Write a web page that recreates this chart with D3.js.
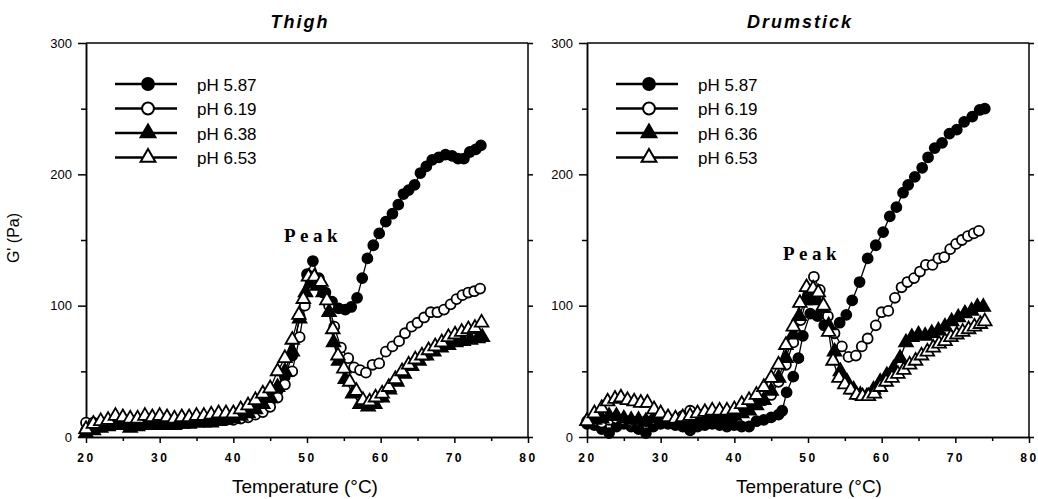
<!DOCTYPE html>
<html>
<head>
<meta charset="utf-8">
<script src="https://d3js.org/d3.v7.min.js"></script>
<style>
body { margin: 0; background: #fff; }
svg { font-family: "Liberation Sans", Arial, sans-serif; }
.axis path, .axis line { stroke: #000; stroke-width: 1.5; }
.axis text { font-size: 13px; fill: #000; }
.xaxis text { letter-spacing: 2.5px; font-size: 12px; font-weight: bold; }
</style>
</head>
<body>
<svg width="1038" height="499"></svg>
<script>
// Thigh: [temperature °C, G' Pa]
const thigh587 = [[20,5],[21,7],[22,8],[23,9],[24,10],[25,10],[26,9],[27,10],[28,10],[29,10],[30,10],[31,10],[32,10],[33,11],[34,11],[35,12],[36,12],[37,12],[38,13],[39,13],[40,14],[41,15],[42,17],[43,19],[44,22],[45,27],[46,35],[47,46],[48,62],[49,92],[50,124],[50.8,134],[51.6,121],[52.5,110],[53.4,103],[54.3,98],[55.2,97],[56,99],[56.8,106],[57.5,121],[58.2,136],[59,146],[59.8,155],[60.7,164],[61.6,170],[62.4,177],[63.1,185],[63.8,188],[64.6,192],[65.4,201],[66.2,206],[67,211],[67.9,213],[68.8,215],[69.7,214],[70.5,212],[71.3,212],[72.1,217],[72.9,219],[73.6,222]];
const thigh619 = [[20,11],[21,11],[22,11],[23,10],[24,11],[25,12],[26,12],[27,11],[28,11],[29,11],[30,10],[31,10],[32,10],[33,11],[34,11],[35,12],[36,12],[37,12],[38,13],[39,13],[40,13],[41,14],[42,15],[43,17],[44,19],[45,23],[46,30],[47,40],[48,50],[49,76],[49.7,100],[50.5,118],[51.3,120],[52.2,110],[53,100],[53.7,84],[54.6,68],[55.6,60],[56.4,53],[57.2,51],[58,49],[58.9,55],[59.8,56],[60.7,65],[61.6,69],[62.5,73],[63.3,79],[64.2,84],[65,87],[65.9,91],[66.8,95],[67.7,95],[68.6,97],[69.5,101],[70.3,105],[71.1,108],[71.9,110],[72.7,111],[73.5,113]];
const thigh638 = [[20,3],[21,5],[22,7],[23,8],[24,9],[25,9],[26,7],[27,8],[28,9],[29,9],[30,9],[31,9],[32,9],[33,10],[34,10],[35,11],[36,11],[37,11],[38,12],[39,13],[40,14],[41,16],[42,18],[43,21],[44,25],[45,30],[46,38],[47,50],[48,65],[49,90],[49.8,110],[50.6,118],[51.4,115],[52.2,110],[53,95],[53.6,72],[54.3,58],[55.2,44],[56.2,33],[57.2,25],[58.3,23],[59.2,25],[60.2,30],[61.2,36],[62.2,42],[63.2,48],[64.2,54],[65.2,58],[66.2,62],[67.2,65],[68.2,68],[69.2,70],[70.2,72],[71.2,73],[72.2,74],[73.2,75],[73.8,76]];
const thigh653 = [[20,6],[21,10],[22,12],[23,13],[24,16],[25,15],[26,14],[27,14],[28,16],[29,15],[30,16],[31,15],[32,14],[33,15],[34,15],[35,16],[36,16],[37,17],[38,18],[39,18],[40,18],[41,21],[42,24],[43,28],[44,33],[45,37],[46,50],[47,60],[48,74],[48.9,93],[49.5,105],[50.2,122],[51,122],[51.9,118],[52.7,104],[53.5,82],[54.2,62],[55,52],[55.8,42],[56.7,35],[57.6,28],[58.5,27],[59.3,30],[60.2,33],[61.1,38],[62,44],[62.9,50],[63.8,55],[64.7,59],[65.6,62],[66.5,66],[67.4,69],[68.3,72],[69.2,76],[70.1,78],[71,80],[71.9,82],[72.8,83],[73.7,87]];

// Drumstick
const drum587 = [[20,10],[21,9],[22,6],[23,3],[24,8],[25,10],[26,8],[27,6],[28,3],[29,8],[30,10],[31,10],[32,9],[33,8],[34,5],[35,8],[36,9],[37,10],[38,9],[39,8],[40,9],[41,8],[42,8],[43,12],[44,13],[45,15],[46,17],[46.5,20],[47.1,34],[48,46],[48.7,60],[49.3,77],[50.3,94],[51.3,92],[52.2,85],[53.2,80],[54.3,87],[55.2,93],[56,104],[57,118],[58.1,136],[59.2,146],[60.2,156],[61.1,168],[62,175],[62.9,186],[63.6,192],[64.5,198],[65.5,205],[66.3,213],[67.2,220],[68.2,224],[69.2,231],[70.2,234],[71.2,240],[72.3,244],[73.3,249],[74,250]];
const drum619 = [[20,12],[21,12],[22,11],[23,13],[24,14],[25,13],[26,12],[27,12],[28,12],[29,13],[30,12],[31,12],[32,13],[33,16],[34,20],[35,17],[36,15],[37,14],[38,14],[39,16],[40,17],[41,20],[42,23],[43,25],[44,28],[45,32],[46,42],[47,55],[48,72],[49,89],[50,108],[50.8,122],[51.6,112],[52.7,92],[53.6,79],[54.6,69],[55.5,61],[56.5,62],[57.3,69],[58.1,75],[59.2,85],[60,95],[60.9,96],[61.8,106],[62.7,114],[63.5,118],[64.4,121],[65.2,126],[66,131],[66.9,131],[67.7,136],[68.5,137],[69.3,143],[70.1,147],[70.9,150],[71.7,153],[72.5,155],[73.2,157]];
const drum636 = [[20,12],[21,13],[22,14],[23,16],[24,16],[25,14],[26,13],[27,13],[28,12],[29,14],[30,12],[31,12],[32,11],[33,11],[34,12],[35,13],[36,13],[37,13],[38,14],[39,15],[40,16],[41,18],[42,20],[43,24],[44,28],[45,35],[46,45],[47,60],[48,78],[48.8,92],[49.6,104],[50.3,106],[51.1,104],[52,98],[52.8,85],[53.6,65],[54.4,50],[55.3,42],[56.2,36],[57.1,32],[58,31],[58.9,36],[59.8,42],[60.7,47],[61.6,52],[62.5,60],[63.3,72],[64.1,76],[65,78],[65.9,77],[66.8,79],[67.7,81],[68.6,84],[69.5,88],[70.4,91],[71.3,94],[72.2,96],[73,99],[73.8,99]];
const drum653 = [[20,12],[21,18],[22,22],[22.8,27],[23.8,29],[24.6,30],[25.5,28],[26.4,27],[27.3,26],[28.2,26],[29.1,21],[30,18],[31,15],[32,14],[33,15],[34,16],[35,18],[36,19],[37,20],[38,20],[39,20],[40,21],[41,25],[42,28],[43,32],[44,38],[45,45],[46,55],[47,70],[48,84],[48.9,102],[49.8,114],[50.7,113],[51.4,110],[52.1,100],[52.8,80],[53.4,58],[54.2,45],[55,40],[55.8,36],[56.6,32],[57.4,31],[58.2,31],[59,33],[59.8,38],[60.6,42],[61.4,45],[62.2,48],[63,51],[63.8,55],[64.6,58],[65.4,62],[66.2,65],[67,68],[67.8,71],[68.6,73],[69.4,76],[70.2,78],[71,80],[71.8,82],[72.6,84],[73.4,86],[74,88]];

const thighLabels = ["pH 5.87", "pH 6.19", "pH 6.38", "pH 6.53"];
const drumLabels = ["pH 5.87", "pH 6.19", "pH 6.36", "pH 6.53"];
const xTicks = [20, 30, 40, 50, 60, 70, 80];
const xMinor = [25, 35, 45, 55, 65, 75];
const yTicks = [0, 100, 200, 300];
const yMinor = [50, 150, 250];

// marker kinds per series: filled circle, open circle, filled triangle, open triangle
const kinds = [
  {shape: d3.symbolCircle, fill: "#000"},
  {shape: d3.symbolCircle, fill: "#fff"},
  {shape: d3.symbolTriangle, fill: "#000"},
  {shape: d3.symbolTriangle, fill: "#fff"}
];

const svg = d3.select("svg");

function panel(opts) {
  const x = d3.scaleLinear().domain([20, 80]).range([opts.x0, opts.x1]);
  const y = d3.scaleLinear().domain([0, 300]).range([437, 43]);
  const g = svg.append("g");

  // frame: top and right
  g.append("line").attr("x1", x(20)).attr("x2", x(80)).attr("y1", y(300)).attr("y2", y(300))
    .attr("stroke", "#000").attr("stroke-width", 1.5);
  g.append("line").attr("x1", x(80)).attr("x2", x(80)).attr("y1", y(300)).attr("y2", y(0))
    .attr("stroke", "#000").attr("stroke-width", 1.5);
  g.append("g").attr("class", "axis").attr("transform", "translate(" + x(80) + ",0)")
    .call(d3.axisRight(y).tickValues(yTicks.concat(yMinor)).tickSize(5).tickFormat(""))
    .call(a => a.select(".domain").remove());

  // axes
  g.append("g").attr("class", "axis").attr("transform", "translate(" + x(20) + ",0)")
    .call(d3.axisLeft(y).tickValues(yTicks).tickSize(8).tickPadding(6).tickSizeOuter(0));
  g.append("g").attr("class", "axis").attr("transform", "translate(" + x(20) + ",0)")
    .call(d3.axisLeft(y).tickValues(yMinor).tickSize(5).tickFormat("").tickSizeOuter(0));
  g.append("g").attr("class", "axis xaxis").attr("transform", "translate(0," + y(0) + ")")
    .call(d3.axisBottom(x).tickValues(xTicks).tickSize(6).tickPadding(10).tickSizeOuter(0));
  g.append("g").attr("class", "axis").attr("transform", "translate(0," + y(0) + ")")
    .call(d3.axisBottom(x).tickValues(xMinor).tickSize(4).tickFormat("").tickSizeOuter(0));

  // title and x label
  g.append("text").attr("x", opts.titleX).attr("y", 28).attr("text-anchor", "middle")
    .style("font-size", "18px").style("font-weight", "bold").style("font-style", "italic")
    .style("letter-spacing", "2px").text(opts.title);
  g.append("text").attr("x", opts.xLabelX).attr("y", 493).attr("text-anchor", "middle")
    .style("font-size", "19px").text("Temperature (°C)");

  // series
  const line = d3.line().x(d => x(d[0])).y(d => y(d[1]));
  opts.series.forEach((s, i) => {
    g.append("path").datum(s).attr("d", line).attr("fill", "none")
      .attr("stroke", "#000").attr("stroke-width", 1.3);
  });
  opts.series.forEach((s, i) => {
    const k = kinds[i];
    const sym = d3.symbol().type(k.shape).size(k.shape === d3.symbolCircle ? 78 : 80);
    g.append("g").selectAll("path").data(s).join("path")
      .attr("transform", d => "translate(" + x(d[0]) + "," + y(d[1]) + ")")
      .attr("d", sym).attr("fill", k.fill).attr("stroke", "#000").attr("stroke-width", 1.8);
  });

  // Peak label
  g.append("text").attr("x", opts.peakX).attr("y", opts.peakY)
    .style("font-family", "'Liberation Serif', serif").style("font-weight", "bold")
    .style("font-size", "19px").style("letter-spacing", "4.5px").text("Peak");

  // legend
  const lg = g.append("g");
  opts.labels.forEach((lab, i) => {
    const ly = 84 + i * 24.5;
    lg.append("line").attr("x1", opts.legX).attr("x2", opts.legX + 62).attr("y1", ly).attr("y2", ly)
      .attr("stroke", "#000").attr("stroke-width", 2.5);
    const k = kinds[i];
    lg.append("path").attr("transform", "translate(" + (opts.legX + 33) + "," + ly + ")")
      .attr("d", d3.symbol().type(k.shape).size(k.shape === d3.symbolCircle ? 110 : 95)())
      .attr("fill", k.fill).attr("stroke", "#000").attr("stroke-width", 2);
    lg.append("text").attr("x", opts.legX + 82).attr("y", ly + 1).attr("dominant-baseline", "central")
      .style("font-size", "17px").text(lab);
  });
}

panel({x0: 86, x1: 528, title: "Thigh", titleX: 300, xLabelX: 305,
  series: [thigh587, thigh619, thigh638, thigh653], labels: thighLabels,
  peakX: 284, peakY: 242, legX: 115});
panel({x0: 587, x1: 1029, title: "Drumstick", titleX: 800, xLabelX: 809,
  series: [drum587, drum619, drum636, drum653], labels: drumLabels,
  peakX: 783, peakY: 260, legX: 616});

// y axis label (left panel only)
svg.append("text").attr("transform", "translate(19,238) rotate(-90)").attr("text-anchor", "middle")
  .style("font-size", "16px").text("G' (Pa)");
</script>
</body>
</html>
